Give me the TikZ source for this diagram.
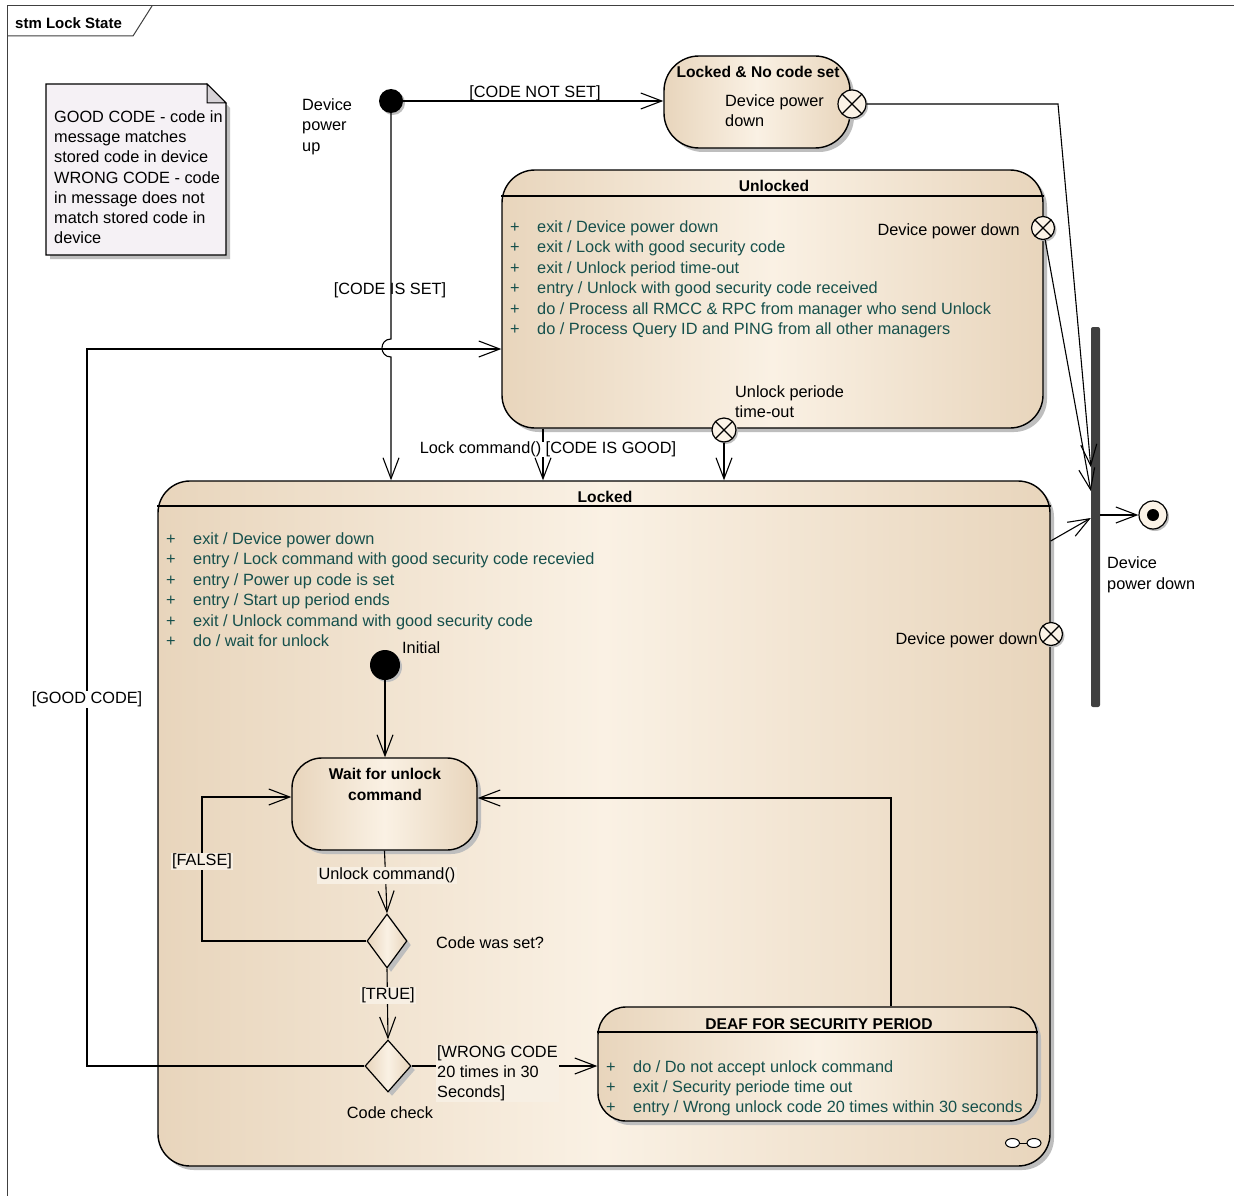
\documentclass[tikz,border=0pt]{standalone}
\usepackage{fontspec}
\setmainfont{Liberation Sans}
\usetikzlibrary{arrows.meta,shapes.geometric,shadows,calc}
\definecolor{tanD}{RGB}{232,213,188}
\definecolor{tanL}{RGB}{250,241,228}
\definecolor{cream}{RGB}{251,243,231}
\definecolor{acttxt}{RGB}{22,80,76}
\definecolor{notefill}{RGB}{245,241,245}
\definecolor{foldc}{RGB}{214,210,214}
\definecolor{shad}{RGB}{190,190,190}
\definecolor{barc}{RGB}{64,64,64}
\definecolor{labelbg}{RGB}{247,239,227}
\begin{document}
\begin{tikzpicture}[x=1pt,y=-1pt,
 txt/.style={inner sep=0pt, font=\fontsize{16.3}{20}\selectfont, text height=11.5pt, text depth=3.5pt, yshift=-2.5pt},
 ttl/.style={txt, font=\fontsize{15.6}{20}\selectfont\bfseries},
 item/.style={txt, text=acttxt, anchor=west},
 lbl/.style={txt, fill=labelbg, inner xsep=1.5pt, inner ysep=1pt},
 statebox/.style={draw=black, line width=1.4pt, left color=tanD, right color=tanD, middle color=tanL, inner sep=0pt,
   drop shadow={shadow xshift=4pt, shadow yshift=-4pt, fill=shad, opacity=1}},
 decision/.style={diamond, statebox, line width=1.2pt},
 exitpt/.style={circle, draw=black, line width=1.2pt, fill=cream, inner sep=0pt, minimum size=#1,
   path picture={\draw[line width=1.2pt] (path picture bounding box.north west) -- (path picture bounding box.south east)
     (path picture bounding box.north east) -- (path picture bounding box.south west);},
   drop shadow={shadow xshift=2pt, shadow yshift=-2pt, fill=shad, opacity=1}},
 initpt/.style={circle, fill=black, inner sep=0pt, minimum size=#1,
   drop shadow={shadow xshift=2pt, shadow yshift=-2pt, fill=shad, opacity=1}},
 tr/.style={line width=1.1pt, -{Straight Barb[length=21pt,width=16pt,line width=1.1pt]}},
 ln/.style={line width=1.1pt}
]
\useasboundingbox (0,0) rectangle (1234,1196);
\fill[white] (0,0) rectangle (1234,1196);

% frame
\draw[line width=1pt, black!75] (7,1210) -- (7,6) -- (1245,6);
\draw[line width=1pt, black!75] (7,36) -- (133,36) -- (152,6);
\node[txt, font=\fontsize{15}{18}\selectfont\bfseries, anchor=west] (frametitle) at (15,22) {stm Lock State};

% note
\fill[shad] (50,88) -- (210,88) -- (230,108) -- (230,259) -- (50,259) -- cycle;
\filldraw[fill=notefill, draw=black, line width=1.2pt] (46,84) -- (207,84) -- (226,103) -- (226,255) -- (46,255) -- cycle;
\filldraw[fill=foldc, draw=black, line width=1pt] (207,84) -- (226,103) -- (207,103) -- cycle;
\foreach \t [count=\i from 0] in {{GOOD CODE - code in},{message matches},{stored code in device},{WRONG CODE - code},{in message does not},{match stored code in},{device}}
  \node[txt, anchor=west] (note\i) at (54,{116+20.2*\i}) {\t};

% states
\node[statebox, rounded corners=32pt, minimum width=892pt, minimum height=685pt] (locked) at (604,823.5) {};
\node[statebox, rounded corners=33pt, minimum width=541pt, minimum height=258pt] (unl) at (772.5,299) {};
\node[statebox, rounded corners=35pt, minimum width=186pt, minimum height=92pt] (lnc) at (757,102) {};
\node[statebox, rounded corners=30pt, minimum width=185pt, minimum height=92pt] (wait) at (384.5,804) {};
\node[statebox, rounded corners=28pt, minimum width=439pt, minimum height=114pt] (deaf) at (817.5,1064) {};
\node[decision, minimum width=40pt, minimum height=54pt] (d1) at (387,941) {};
\node[decision, minimum width=46pt, minimum height=52pt] (d2) at (388,1066) {};

% compartment separators
\draw[line width=1.2pt] (locked.west |- 0,506) -- (locked.east |- 0,506);
\draw[line width=1.2pt] (unl.west |- 0,196) -- (unl.east |- 0,196);
\draw[line width=1.2pt] (deaf.west |- 0,1032) -- (deaf.east |- 0,1032);

% titles
\node[ttl] (tlnc) at (758,71) {Locked \& No code set};
\node[ttl] (tunl) at (774,185) {Unlocked};
\node[ttl] (tlocked) at (605,496) {Locked};
\node[ttl] (twait1) at (385,773) {Wait for unlock};
\node[ttl] (twait2) at (385,794) {command};
\node[ttl] (tdeaf) at (819,1023) {DEAF FOR SECURITY PERIOD};

% activities
\foreach \t [count=\i from 0] in {{exit / Device power down},{exit / Lock with good security code},{exit / Unlock period time-out},{entry / Unlock with good security code received},{do / Process all RMCC \& RPC from manager who send Unlock},{do / Process Query ID and PING from all other managers}}{
  \node[item] (ua\i) at (537,{226+20.4*\i}) {\t};
  \node[txt, text=acttxt] (up\i) at (515,{226+20.4*\i}) {+};
}
\foreach \t [count=\i from 0] in {{exit / Device power down},{entry / Lock command with good security code recevied},{entry / Power up code is set},{entry / Start up period ends},{exit / Unlock command with good security code},{do / wait for unlock}}{
  \node[item] (la\i) at (193,{538+20.4*\i}) {\t};
  \node[txt, text=acttxt] (lp\i) at (171,{538+20.4*\i}) {+};
}
\foreach \t [count=\i from 0] in {{do / Do not accept unlock command},{exit / Security periode time out},{entry / Wrong unlock code 20 times within 30 seconds}}{
  \node[item] (da\i) at (633,{1066+20*\i}) {\t};
  \node[txt, text=acttxt] (dp\i) at (611,{1066+20*\i}) {+};
}

% composite icon
\draw[line width=1pt, fill=white] (1012.5,1143) ellipse [x radius=7, y radius=4.5];
\draw[line width=1pt, fill=white] (1034,1143) ellipse [x radius=7, y radius=4.5];
\draw[line width=1pt] (1019.5,1143) -- (1027,1143);

% pseudo states
\node[initpt=24pt] (init) at (391,101) {};
\node[initpt=30pt] (init2) at (385,665) {};
\node[exitpt=28pt] (ex1) at (852,104) {};
\node[exitpt=23pt] (ex2) at (1043,228) {};
\node[exitpt=24pt] (ex3) at (724,430) {};
\node[exitpt=23pt] (ex4) at (1051,634) {};
\node[fill=barc, rounded corners=2pt, minimum width=9pt, minimum height=380pt, inner sep=0pt] (bar) at (1095.5,517) {};
\node[circle, draw=black, line width=1.2pt, fill=cream, minimum size=28pt, inner sep=0pt,
  drop shadow={shadow xshift=2pt, shadow yshift=-2pt, fill=shad, opacity=1}] (fin) at (1153,515) {};
\node[circle, fill=black, minimum size=12pt, inner sep=0pt] (findot) at (fin) {};

% transitions
\draw[tr] (init) -- (lnc.west |- init);
\draw[tr] (init.south) -- (init |- 0,339) .. controls (379,339) and (379,357) .. (init |- 0,357) -- (init |- locked.north);
\draw[tr] (ex1.east) -- (1058,104) -- (bar.west |- 0,467);
\draw[tr] (ex2) -- (bar.west |- 0,491);
\draw[tr] (ex3) -- (ex3 |- locked.north);
\draw[tr] (unl.south -| 543,0) -- (locked.north -| 543,0);
\draw[tr] (locked.east |- 0,541) -- (bar.west |- 0,518);
\draw[tr] (bar.east |- fin) -- (fin);
\draw[tr] (d2.west) -- (d2.west -| 87,0) -- (87,349) -- (unl.west |- 0,349);
\draw[tr] (init2) -- (init2 |- wait.north);
\draw[tr] (wait.south) -- (d1.north);
\draw[tr] (d1.west) -- (d1.west -| 202,0) -- (202,797) -- (wait.west |- 0,797);
\draw[tr] (d1.south) -- (d2.north);
\draw[tr] (d2.east) -- (deaf.west |- d2.east);
\draw[tr] (deaf.north -| 891,0) -- (891,798) -- (wait.east |- 0,798);

% labels
\node[txt] (lcns) at (535,91) {[CODE NOT SET]};
\node[txt, anchor=west] (dpu1) at (302,104) {Device};
\node[txt, anchor=west] (dpu2) at (302,124) {power};
\node[txt, anchor=west] (dpu3) at (302,145) {up};
\node[txt, anchor=west] (lncd1) at (725,100) {Device power};
\node[txt, anchor=west] (lncd2) at (725,120) {down};
\node[txt, anchor=east] (unld) at (1020,229) {Device power down};
\node[txt, anchor=west] (upt1) at (735,391) {Unlock periode};
\node[txt, anchor=west] (upt2) at (735,411) {time-out};
\node[txt] (lcis) at (390,288) {[CODE IS SET]};
\node[txt, fill=white, inner xsep=1pt] (llock) at (548,447) {Lock command() [CODE IS GOOD]};
\node[txt, anchor=east] (lockd) at (1038,638) {Device power down};
\node[txt, anchor=west] (find1) at (1107,562) {Device};
\node[txt, anchor=west] (find2) at (1107,583) {power down};
\node[txt, fill=white, inner xsep=1pt, inner ysep=1pt] (lgood) at (87,697) {[GOOD CODE]};
\node[txt, anchor=west] (linit) at (402,647) {Initial};
\node[lbl] (lunl) at (387,873) {Unlock command()};
\node[txt, anchor=west] (lcws) at (436,942) {Code was set?};
\node[lbl] (lfalse) at (202,859) {[FALSE]};
\node[lbl] (ltrue) at (388,993) {[TRUE]};
\node[inner sep=1pt, fill=labelbg, font=\fontsize{16.3}{20}\selectfont, align=left, anchor=north west] (lwrong) at (436,1044.5) {[WRONG CODE\\20 times in 30\\Seconds]};
\node[txt] (lcc) at (390,1112) {Code check};
\end{tikzpicture}
\end{document}
